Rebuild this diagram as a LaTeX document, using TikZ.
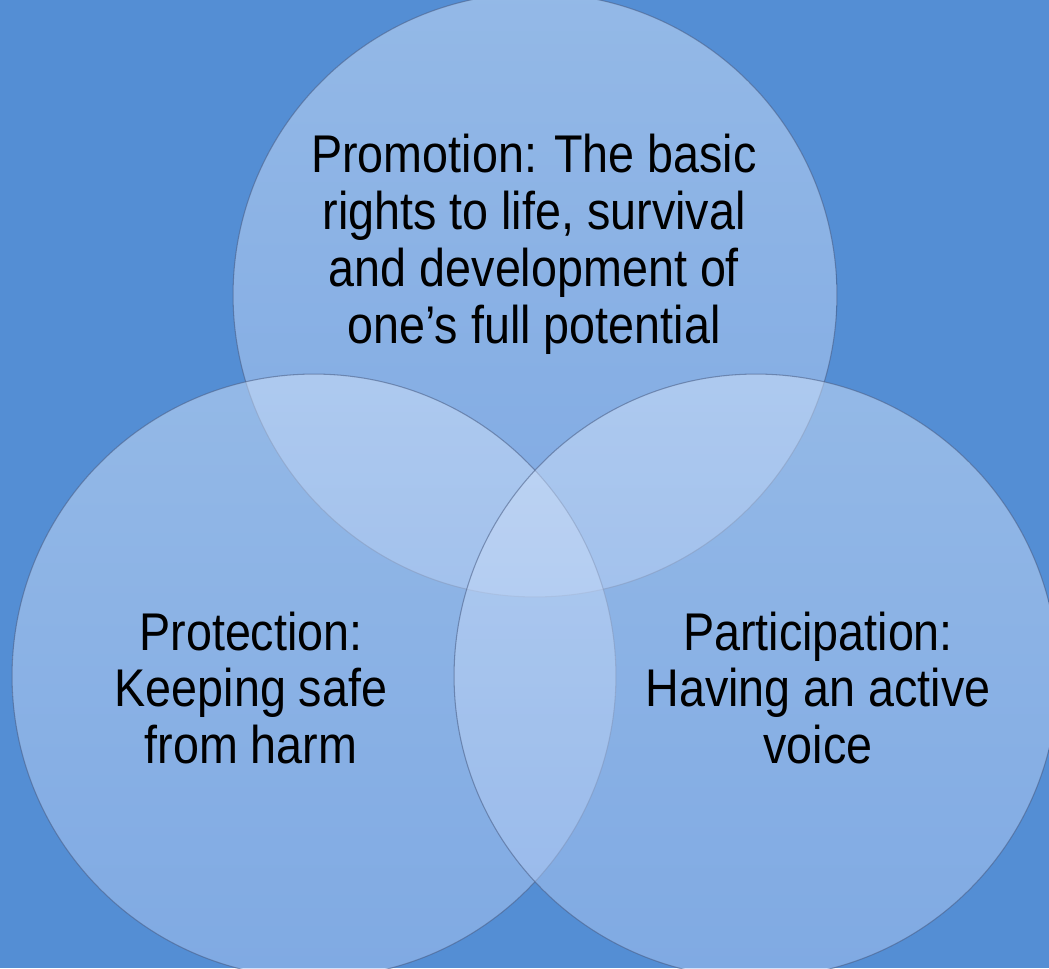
\documentclass[tikz,border=0pt]{standalone}
\usepackage{fontspec}
\setmainfont{Liberation Sans}[FakeStretch=0.88]
\definecolor{bgblue}{RGB}{84,142,212}
\definecolor{venntop}{RGB}{212,228,250}
\definecolor{vennbot}{RGB}{172,198,242}
\definecolor{vennline}{RGB}{70,90,130}
\begin{document}
\begin{tikzpicture}[x=0.02cm,y=-0.02cm,
  venn/.style={circle,minimum size=12.08cm,inner sep=0pt,
    top color=venntop,bottom color=vennbot,fill opacity=0.5,
    draw=vennline,draw opacity=0.55,line width=0.6pt},
  lbl/.style={align=center,inner sep=0pt,font=\fontsize{30.2}{32.4}\selectfont}]
  \fill[bgblue] (0,0) rectangle (1049,968);
  \useasboundingbox (0,0) rectangle (1049,968);

  \node[venn](promoc) at (535,295) {};
  \node[venn](protc) at (314,676) {};
  \node[venn](partc) at (756,676) {};

  \node[lbl](promo) at (534,244) {Promotion: The basic\\rights to life, survival\\and development of\\one’s full potential};
  \node[lbl](prot) at (251,688) {Protection:\\Keeping safe\\from harm};
  \node[lbl](part) at (818,688) {Participation:\\Having an active\\voice};
\end{tikzpicture}
\end{document}
